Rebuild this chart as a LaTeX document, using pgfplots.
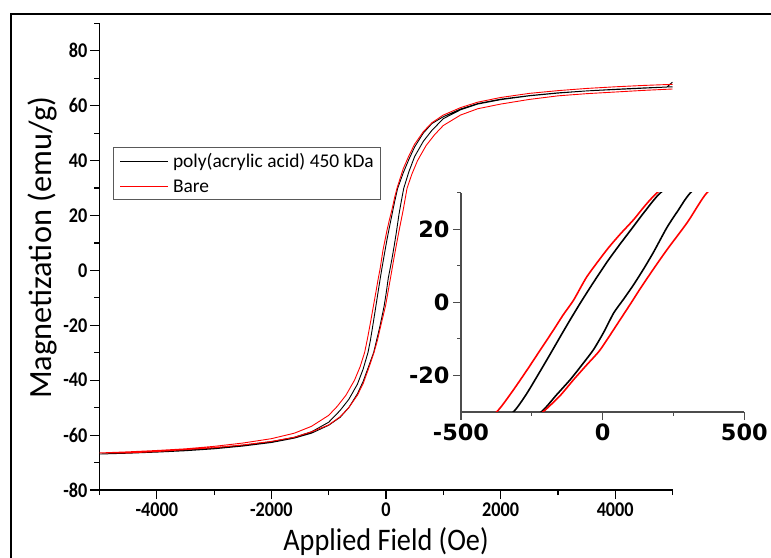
\documentclass[border=0pt]{standalone}
\usepackage{pgfplots}
\pgfplotsset{compat=1.18}
\usepackage{pgfplotstable}
\usepackage{fontspec}
\setmainfont{Carlito}
\newfontfamily\dejavu{DejaVu Sans}

% poly(acrylic acid) 450 kDa : descending then ascending branch
\pgfplotstableread{
H M
5000 66.9
4500 66.5
4000 66.0
3500 65.4
3000 64.7
2500 63.7
2000 62.4
1600 60.8
1300 58.8
1000 56.0
800 53.5
650 50.0
500 45.0
400 40.5
300 35.5
203 29.9
150 25.0
109 20.8
60 15.8
15 11.0
-38 4.8
-79 -0.2
-115 -4.8
-149 -9.3
-190 -14.8
-231 -20.2
-270 -25.2
-313 -29.8
-400 -36.0
-500 -41.5
-650 -47.0
-800 -51.0
-1000 -55.3
-1300 -58.8
-1600 -60.8
-2000 -62.4
-2500 -63.7
-3000 -64.7
-3500 -65.5
-4000 -66.0
-4500 -66.5
-5000 -66.9
-4500 -66.6
-4000 -66.2
-3500 -65.7
-3000 -65.0
-2500 -64.0
-2000 -62.7
-1600 -61.1
-1300 -59.3
-1000 -56.4
-800 -53.5
-650 -50.0
-500 -45.0
-400 -40.5
-300 -34.8
-214 -29.8
-165 -25.5
-114 -21.1
-70 -16.8
-32 -12.9
5 -8.0
39 -2.9
75 1.0
109 4.8
145 9.2
180 13.8
227 20.5
265 25.0
309 29.9
400 36.0
500 41.5
650 47.0
800 51.0
1000 55.3
1300 58.5
1600 60.6
2000 62.2
2500 63.6
3000 64.6
3500 65.4
4000 65.9
4500 66.4
4900 66.8
5000 68.6
}\blackloop

% Bare : descending then ascending branch
\pgfplotstableread{
H M
5000 67.8
4500 67.4
4000 66.9
3500 66.3
3000 65.5
2500 64.5
2000 63.0
1600 61.3
1300 59.3
1000 56.6
800 53.8
650 50.5
500 46.0
400 41.8
300 37.0
191 29.9
150 26.5
109 22.6
60 18.5
15 14.4
-55 7.1
-102 0.7
-140 -3.5
-173 -7.5
-220 -13.0
-266 -18.4
-320 -24.5
-372 -29.8
-450 -35.0
-550 -40.0
-700 -45.5
-850 -49.5
-1000 -52.8
-1300 -56.8
-1600 -59.3
-2000 -61.3
-2500 -62.9
-3000 -64.1
-3500 -65.0
-4000 -65.6
-4500 -66.1
-5000 -66.5
-4500 -66.5
-4000 -66.0
-3500 -65.3
-3000 -64.6
-2500 -63.6
-2000 -62.3
-1600 -60.8
-1300 -58.8
-1000 -56.3
-800 -53.3
-650 -50.0
-500 -45.5
-400 -41.3
-300 -35.5
-208 -29.8
-150 -25.5
-102 -21.1
-55 -17.0
-8 -12.9
62 -4.7
100 -0.2
133 3.8
180 9.2
227 14.4
300 22.0
367 29.9
450 35.0
550 40.0
700 45.5
850 49.5
1000 52.8
1300 56.6
1600 58.9
2000 60.6
2500 62.3
3000 63.6
3500 64.4
4000 65.0
4500 65.6
5000 66.1
}\redloop

\begin{document}
\begin{tikzpicture}
\useasboundingbox (0bp,0bp) rectangle (771bp,558bp);
\draw[line width=2.4bp] (11bp,-10bp) -- (11bp,544bp) -- (790bp,544bp);

\begin{axis}[
  at={(99.5bp,68bp)}, anchor=south west,
  scale only axis, width=573bp, height=466.6bp,
  xmin=-5000, xmax=5000, ymin=-80, ymax=90,
  axis lines=left,
  axis line style={-, line width=1.4bp, black},
  tick align=outside,
  major tick length=9bp, minor tick length=5bp,
  every tick/.style={line width=1.2bp, black},
  xtick={-4000,-2000,0,2000,4000},
  xticklabels={{-4000},{-2000},0,2000,4000},
  minor xtick={-5000,-3000,-1000,1000,3000,5000},
  ytick={-80,-60,-40,-20,0,20,40,60,80},
  yticklabels={{-80},{-60},{-40},{-20},0,20,40,60,80},
  minor ytick={-70,-50,-30,-10,10,30,50,70,90},
  ticklabel style={font=\bfseries\fontsize{21}{21}\selectfont, xscale=0.87},
  xlabel={Applied Field (Oe)},
  ylabel={Magnetization (emu/g)},
  xlabel style={at={(axis description cs:0.5,-0.129)}, anchor=base,
    font=\fontsize{31.5}{31.5}\selectfont, xscale=0.9},
  ylabel style={at={(axis description cs:-0.1003,0.519)}, anchor=center,
    font=\fontsize{32.5}{32.5}\selectfont},
  legend style={at={(axis description cs:0.0229,0.7345)}, anchor=north west,
    draw=gray!70!black, line width=0.8bp,
    font=\fontsize{19.5}{19.5}\selectfont,
    inner xsep=7bp, inner ysep=7.8bp, row sep=12bp, column sep=4.7bp,
    nodes={inner sep=0bp, text height=12.3bp, text depth=0bp}},
  legend cell align=left,
  legend image code/.code={\draw[#1, line width=0.8bp] (0bp,0bp) -- (47.5bp,0bp);},
]
\addplot[black, line width=0.9bp] table[x=H, y=M] {\blackloop};
\addlegendentry{poly(acrylic acid) 450 kDa}
\addplot[red, line width=0.9bp] table[x=H, y=M] {\redloop};
\addlegendentry{Bare}
\end{axis}

\begin{axis}[
  at={(461bp,146bp)}, anchor=south west,
  scale only axis, width=283.3bp, height=219.3bp,
  xmin=-500, xmax=500, ymin=-30, ymax=30,
  axis lines=left,
  axis line style={-, line width=1.2bp, gray!60!black},
  tick align=outside,
  major tick length=8bp, minor tick length=4bp,
  every tick/.style={line width=1.1bp, gray!60!black},
  xtick={-500,0,500}, xticklabels={{-500},0,500},
  minor xtick={-250,250},
  ytick={-20,0,20}, yticklabels={{-20},0,20},
  minor ytick={-10,10,30},
  ticklabel style={font=\dejavu\bfseries\fontsize{22.5}{22.5}\selectfont},
]
\addplot[black, line width=1.6bp, smooth, tension=0.4] table[x=H, y=M] {\blackloop};
\addplot[red, line width=1.6bp, smooth, tension=0.4] table[x=H, y=M] {\redloop};
\end{axis}
\end{tikzpicture}
\end{document}
